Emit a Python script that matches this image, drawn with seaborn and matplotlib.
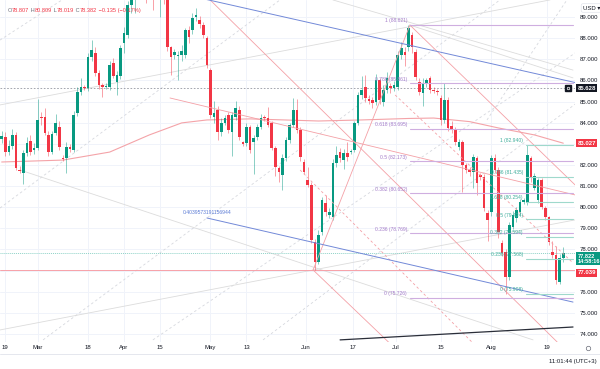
import numpy as np
import seaborn as sns
import matplotlib.pyplot as plt
import matplotlib.transforms as mtransforms
from matplotlib.lines import Line2D
from matplotlib.offsetbox import TextArea, HPacker, AnchoredOffsetbox

# daily candles (bar index 0 = Feb 19)
opens = [83.23, 83.32, 82.61, 82.90, 83.42, 81.76, 81.62, 82.57, 83.13, 82.71,
         82.80, 84.27, 84.27, 83.42, 82.61, 83.51, 83.80, 82.35, 82.33, 82.85,
         82.71, 84.46, 85.45, 85.69, 85.64, 87.11, 87.30, 86.35, 85.78, 85.69,
         85.69, 86.83, 85.93, 86.21, 87.77, 88.15, 89.57, 90.04, 90.45, 90.90,
         91.15, 90.60, 90.95, 90.50, 90.20, 90.30, 89.95, 87.58, 87.20, 87.15,
         87.20, 87.20, 88.39, 88.39, 89.00, 88.86, 88.62, 88.01, 86.49, 84.27,
         84.60, 83.56, 83.99, 84.36, 83.56, 84.27, 84.60, 83.09, 83.04, 83.80,
         83.09, 83.32, 83.80, 84.27, 84.22, 83.99, 82.80, 81.86, 81.52, 82.33,
         83.18, 83.89, 84.60, 83.65, 82.14, 81.29, 81.05, 78.35, 77.41, 78.83,
         80.20, 79.63, 79.54, 82.09, 82.61, 82.23, 82.57, 82.61, 82.71, 83.99,
         85.31, 85.69, 85.12, 85.07, 84.98, 86.02, 84.98, 85.55, 85.74, 85.64,
         85.69, 87.20, 87.35, 87.58, 88.15, 87.35, 85.93, 85.41, 85.88, 86.12,
         85.55, 85.50, 85.17, 84.13, 85.07, 83.84, 83.65, 82.85, 83.09, 81.99,
         81.76, 81.67, 82.33, 81.52, 81.43, 79.73, 79.77, 82.33, 81.76, 78.31,
         77.88, 76.70, 79.06, 79.49, 79.77, 80.25, 80.20, 82.33, 80.91, 80.34,
         81.29, 79.96, 79.54, 77.88, 77.74, 76.46, 77.60]
highs = [83.60, 83.55, 83.20, 83.70, 83.55, 81.95, 82.70, 83.30, 83.40, 83.05,
         85.10, 84.50, 84.70, 83.60, 83.60, 84.40, 84.10, 82.45, 83.10, 83.00,
         84.55, 85.70, 86.10, 85.80, 87.30, 87.90, 87.60, 86.50, 85.90, 85.90,
         86.90, 87.05, 86.45, 87.70, 88.55, 89.75, 90.40, 90.80, 91.20, 91.50,
         91.40, 91.30, 91.20, 90.80, 90.70, 90.50, 90.10, 87.65, 87.50, 87.40,
         87.70, 88.50, 88.60, 89.20, 89.45, 89.05, 88.75, 88.10, 86.60, 85.05,
         84.80, 84.20, 84.35, 84.50, 84.50, 85.05, 84.80, 83.15, 84.00, 83.90,
         83.40, 83.95, 84.40, 84.35, 84.75, 84.10, 82.90, 81.95, 82.50, 83.30,
         84.00, 85.15, 85.10, 83.80, 82.30, 81.90, 81.20, 78.50, 78.90, 80.50,
         80.60, 79.95, 82.30, 82.90, 82.80, 82.75, 83.10, 82.75, 84.10, 85.45,
         86.20, 86.25, 85.30, 85.20, 86.30, 86.10, 85.80, 86.40, 85.90, 85.95,
         87.40, 87.80, 87.60, 88.62, 88.30, 87.50, 86.10, 86.10, 86.10, 86.20,
         85.70, 85.60, 85.30, 85.90, 85.20, 84.10, 83.80, 83.25, 83.20, 82.10,
         81.90, 82.50, 82.40, 81.60, 81.55, 79.85, 82.45, 82.50, 81.90, 78.45,
         78.00, 79.30, 79.80, 80.00, 80.40, 80.45, 82.94, 82.40, 81.60, 81.40,
         81.40, 80.05, 79.60, 78.40, 78.15, 77.80, 78.10]
lows = [83.05, 82.40, 82.45, 82.75, 81.75, 81.60, 81.10, 82.40, 82.45, 82.50,
        82.70, 83.90, 83.40, 82.40, 82.50, 83.40, 82.70, 82.20, 81.60, 82.60,
        82.60, 84.30, 85.30, 85.55, 85.50, 86.90, 86.20, 85.60, 85.20, 85.60,
        85.55, 86.10, 85.30, 86.05, 87.30, 88.00, 89.20, 89.20, 90.20, 90.60,
        89.65, 90.20, 89.35, 89.90, 89.00, 89.60, 87.40, 86.26, 87.00, 86.02,
        86.90, 87.05, 87.75, 88.20, 88.80, 88.50, 88.00, 86.60, 84.20, 84.00,
        83.20, 83.35, 83.90, 83.50, 82.40, 84.15, 83.20, 82.90, 82.90, 82.55,
        81.55, 83.20, 83.70, 84.10, 83.80, 82.70, 81.50, 81.20, 80.80, 82.20,
        83.05, 83.80, 83.50, 82.20, 81.55, 80.95, 78.30, 77.03, 77.30, 78.70,
        79.60, 79.50, 79.40, 81.90, 82.15, 81.80, 82.20, 82.50, 82.60, 83.90,
        85.10, 85.00, 84.90, 84.70, 84.85, 84.90, 84.80, 85.40, 85.40, 85.50,
        85.55, 87.00, 86.70, 87.40, 87.30, 86.00, 85.30, 84.80, 85.70, 85.40,
        85.40, 85.30, 83.90, 84.00, 83.60, 83.50, 82.95, 82.70, 80.72, 81.60,
        81.50, 80.90, 80.60, 81.30, 79.80, 78.40, 79.60, 81.60, 78.55, 77.70,
        75.91, 76.55, 78.95, 79.30, 79.65, 80.15, 80.10, 81.20, 80.80, 80.20,
        79.90, 79.40, 78.20, 77.60, 76.37, 76.35, 77.40]
closes = [83.37, 82.61, 82.90, 83.42, 81.86, 81.71, 82.57, 83.04, 82.61, 82.80,
          84.13, 84.20, 83.51, 82.61, 83.47, 83.99, 82.85, 82.30, 82.85, 82.76,
          84.36, 85.45, 85.69, 85.64, 87.11, 87.44, 86.35, 85.78, 85.69, 85.74,
          86.73, 86.21, 86.26, 87.54, 88.24, 89.57, 90.04, 90.45, 90.90, 91.15,
          90.60, 90.95, 90.50, 90.20, 90.30, 89.95, 87.58, 87.11, 87.35, 87.20,
          87.40, 88.39, 88.06, 88.96, 89.10, 88.67, 88.15, 86.73, 84.36, 84.46,
          83.56, 83.99, 84.22, 83.65, 84.36, 84.70, 83.32, 82.99, 83.80, 82.71,
          83.28, 83.80, 84.22, 84.22, 83.89, 82.80, 81.90, 81.67, 82.33, 83.18,
          83.89, 84.60, 83.65, 82.38, 81.67, 81.05, 78.45, 77.41, 78.68, 80.34,
          79.77, 79.77, 82.09, 82.47, 82.33, 82.57, 82.38, 82.62, 83.99, 85.31,
          85.55, 85.17, 85.03, 84.93, 86.02, 85.07, 85.55, 86.12, 85.64, 85.78,
          87.20, 87.54, 87.20, 88.48, 87.58, 86.16, 85.45, 85.88, 86.02, 85.55,
          85.50, 85.45, 84.13, 85.07, 83.75, 83.65, 83.09, 83.09, 81.99, 81.76,
          81.67, 82.38, 81.15, 81.43, 79.96, 79.40, 82.33, 81.76, 78.83, 77.83,
          76.70, 79.16, 79.63, 79.87, 80.25, 80.34, 82.47, 81.38, 81.48, 81.29,
          80.01, 79.54, 78.35, 77.74, 76.56, 77.60, 77.82]

# moving average read at a few bars
ma_idx = [0, 17, 30, 41, 50, 57, 69, 88, 100, 113, 120, 130, 138, 148, 156]
ma_val = [82.14, 82.23, 82.61, 83.42, 83.99, 84.13, 84.18, 84.08, 84.13, 84.20,
          84.22, 84.05, 83.75, 83.42, 83.03]

tick_idx = [0.8, 10, 24, 34, 44, 58, 68, 84.5, 97.5, 109.5, 122, 136, 151.5]
tick_labels = ['19', 'Mar', '18', 'Apr', '15', 'May', '13', 'Jun', '17', 'Jul', '15', 'Aug', '19']
price_ticks = list(range(74, 90))
hidden_ticks = [77, 83]   # covered by the price boxes on the scale

fib_levels = ['0', '0.236', '0.382', '0.5', '0.618', '0.786', '1']
fib_a_values = [75.726, 78.769, 80.652, 82.173, 83.695, 85.861, 88.621]
fib_b_values = [75.908, 77.568, 78.594, 79.424, 80.254, 81.435, 82.940]

# drawings, anchors as (bar, price, bar, price)
blue_lines = [(40, 90.48, 159.3, 85.90), (57.0, 79.49, 158.7, 75.51)]
red_lines = [(57.9, 89.81, 154.3, 73.62), (86.5, 77.03, 110, 73.2),
             (86.5, 77.03, 113.4, 88.62), (46.75, 85.17, 159.3, 80.58),
             (113.4, 88.62, 159.3, 81.05)]
red_dashed = [(82.9, 81.76, 130.6, 73.62), (109.3, 85.31, 158.7, 77.36)]
gray_lines = [(-0.47, 84.84, 152.3, 89.81), (5.1, 81.76, 147.6, 73.72),
              (-0.47, 74.19, 159.3, 79.40), (113.4, 88.62, 158.7, 86.12),
              (92, 89.81, 158.7, 86.49)]
gray_dashed = [(-0.47, 87.91, 16.75, 89.81), (-0.47, 79.96, 77.3, 89.81),
               (11.5, 73.72, 138.4, 89.81), (42, 73.72, 159.3, 87.30),
               (72.6, 73.72, 159.3, 84.88), (134.8, 84.13, 157, 89.81)]
black_line = (94, 73.72, 158.7, 74.33)

last_price = 77.822
ref_price = 85.628
ma_last = 83.027
low_line = 77.039

sns.set_theme(style='white')
plt.rcParams['font.family'] = ['Liberation Sans', 'DejaVu Sans']

UP, DOWN = '#089981', '#f23645'
TXT = '#131722'

fig = plt.figure(figsize=(6, 3.69), dpi=100)
fig.patch.set_facecolor('white')
ax = fig.add_axes([0, 27 / 369, 575 / 600, 342 / 369])
ax.set_facecolor('white')

ax.set_xlim(-0.47, 159.25)
ax.set_ylim(73.62, 89.807)

for s in ax.spines.values():
    s.set_visible(False)

# grid
for t in tick_idx:
    ax.axvline(t, color='#f0f3fa', lw=0.7, zorder=0)
for p in price_ticks:
    ax.axhline(p, color='#f0f3fa', lw=0.7, zorder=0)

idx = np.arange(len(closes))
o = np.array(opens)
c = np.array(closes)
colors = [UP if cc >= oo else DOWN for oo, cc in zip(o, c)]
bottoms = np.minimum(o, c)
heights = np.maximum(np.abs(c - o), 0.04)

ax.vlines(idx, lows, highs, colors=colors, lw=0.6, alpha=0.55, zorder=3)
ax.bar(idx, heights, bottom=bottoms, width=0.72, color=colors, lw=0, zorder=4)

# moving average
sns.lineplot(x=ma_idx, y=ma_val, ax=ax, color='#f4a3a8', lw=0.8, zorder=2)

# horizontal reference lines
ax.axhline(ref_price, color='#9598a1', lw=0.6, ls=(0, (2, 2)), zorder=2)
ax.axhline(low_line, color='#f7a1a8', lw=0.7, zorder=2)
ax.axhline(last_price, color='#8fd3c8', lw=0.7, ls=(0, (1, 1)), zorder=2)

def draw(lines, color, lw=0.6, ls='-', z=5):
    for x0, y0, x1, y1 in lines:
        ax.plot([x0, x1], [y0, y1], color=color, lw=lw, ls=ls, zorder=z)

draw(gray_dashed, '#d6d8de', lw=0.6, ls=(0, (3, 3)), z=1)
draw(gray_lines, '#dcdcdc', lw=0.6, z=1)
draw(red_lines, '#f4a0a6', lw=0.6)
draw(red_dashed, '#f4a0a6', lw=0.6, ls=(0, (3, 3)))
draw(blue_lines, '#7289d8', lw=0.7)
draw([black_line], '#2a2e39', lw=0.9)

ax.text(57.0, 79.62, '0.4039573191156944', color='#5b7bd5', fontsize=3.6,
        ha='center', va='bottom', zorder=6)

# fib retracements
for lev, val in zip(fib_levels, fib_a_values):
    ax.plot([113.4, 158.7], [val, val], color='#cfaee0', lw=0.8, zorder=5)
    ax.text(112.6, val + 0.08, f'{lev} ({val:.3f})', color='#a47cc9', fontsize=3.6,
            ha='right', va='bottom', zorder=6)
for lev, val in zip(fib_levels, fib_b_values):
    ax.plot([145.6, 158.7], [val, val], color='#9fd9cc', lw=0.8, zorder=5)
    ax.text(144.8, val + 0.08, f'{lev} ({val:.3f})', color='#3fae9c', fontsize=3.6,
            ha='right', va='bottom', zorder=6)

# axes ticks
ax.yaxis.tick_right()
ax.set_yticks(price_ticks)
ax.set_yticklabels(['' if p in hidden_ticks else f'{p:.3f}' for p in price_ticks])
ax.set_xticks(tick_idx)
ax.set_xticklabels(tick_labels)
ax.tick_params(axis='y', length=0, pad=3.5, labelsize=4.3, labelcolor=TXT)
ax.tick_params(axis='x', length=0, pad=2.5, labelsize=4.3, labelcolor=TXT)
ax.set_xlabel('')
ax.set_ylabel('')

# price labels on the scale
trans = mtransforms.blended_transform_factory(ax.transAxes, ax.transData)
def scale_box(val, text, fc, va='center', dy=0.0, size=4.3):
    ax.text(1.004, val + dy, text, transform=trans, ha='left', va=va, fontsize=size,
            color='white', fontweight='bold', clip_on=False, zorder=10, linespacing=1.0,
            bbox=dict(boxstyle='square,pad=0.25', fc=fc, ec='none'))

scale_box(ref_price, f'{ref_price:.3f}', '#131722')
scale_box(ma_last, f'{ma_last:.3f}', DOWN)
scale_box(last_price, f'{last_price:.3f}\n14:58:16', UP, va='top', dy=-0.03, size=4.1)
scale_box(low_line, f'{low_line:.3f}', DOWN, va='top', dy=-0.02)
ax.plot([0.988], [ref_price], transform=trans, marker='s', ms=4, color='#131722',
        clip_on=False, zorder=10)
ax.plot([0.988], [ref_price], transform=trans, marker='o', ms=1.8, mfc='none',
        mec='white', mew=0.5, clip_on=False, zorder=11)

# OHLC header
parts = [('O', '#6a6d78'), ('78.807', DOWN), (' H', '#6a6d78'), ('80.809', DOWN),
         (' L', '#6a6d78'), ('78.019', DOWN), (' C', '#6a6d78'), ('78.382', DOWN),
         (' \u22120.135 (\u22120.17%)', DOWN)]
boxes = [TextArea(t, textprops=dict(color=col, fontsize=4.1)) for t, col in parts]
header = AnchoredOffsetbox(loc='upper left', child=HPacker(children=boxes, align='baseline', pad=0, sep=0),
                           frameon=False, bbox_to_anchor=(0.003, 0.995),
                           bbox_transform=ax.transAxes, borderpad=0)
ax.add_artist(header)

fig.text(583 / 600, 1 - 8 / 369, 'USD \u25be', fontsize=4.3, color=TXT, ha='left', va='center',
         bbox=dict(boxstyle='round,pad=0.3', fc='white', ec='#e0e3eb', lw=0.5))
fig.add_artist(Line2D([0, 1], [1 - 354 / 369] * 2, color='#e0e3eb', lw=0.6))
fig.add_artist(Line2D([588 / 600], [1 - 348 / 369], marker='o', ms=3.2, mfc='none',
                      mec='#6a6d78', mew=0.5, lw=0))
fig.text(597 / 600, 1 - 362 / 369, '11:01:44 (UTC+3)', fontsize=4.3, color=TXT,
         ha='right', va='center')

plt.savefig('out.png', dpi=100)
